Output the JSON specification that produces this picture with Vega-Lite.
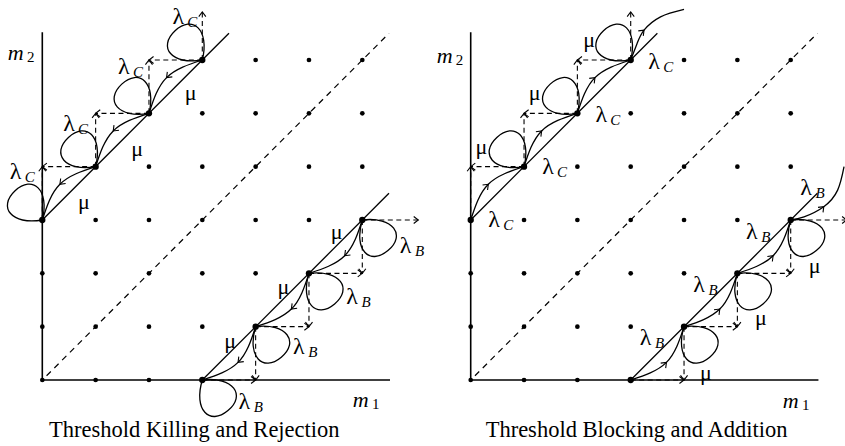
{
  "$schema": "https://vega.github.io/schema/vega-lite/v6.json",
  "padding": 0,
  "background": "white",
  "bounds": "flush",
  "data": {"values": [
    {"p":["L","R"],"k":"dot","x":0,"y":0},{"p":["L","R"],"k":"dot","x":1,"y":0},{"p":["L","R"],"k":"dot","x":2,"y":0},{"p":["L","R"],"k":"dot","x":3,"y":0},
    {"p":["L","R"],"k":"dot","x":0,"y":1},{"p":["L","R"],"k":"dot","x":1,"y":1},{"p":["L","R"],"k":"dot","x":2,"y":1},{"p":["L","R"],"k":"dot","x":3,"y":1},{"p":["L","R"],"k":"dot","x":4,"y":1},
    {"p":["L","R"],"k":"dot","x":0,"y":2},{"p":["L","R"],"k":"dot","x":1,"y":2},{"p":["L","R"],"k":"dot","x":2,"y":2},{"p":["L","R"],"k":"dot","x":3,"y":2},{"p":["L","R"],"k":"dot","x":4,"y":2},{"p":["L","R"],"k":"dot","x":5,"y":2},
    {"p":["L","R"],"k":"dot","x":0,"y":3},{"p":["L","R"],"k":"dot","x":1,"y":3},{"p":["L","R"],"k":"dot","x":2,"y":3},{"p":["L","R"],"k":"dot","x":3,"y":3},{"p":["L","R"],"k":"dot","x":4,"y":3},{"p":["L","R"],"k":"dot","x":5,"y":3},{"p":["L","R"],"k":"dot","x":6,"y":3},
    {"p":["L","R"],"k":"dot","x":1,"y":4},{"p":["L","R"],"k":"dot","x":2,"y":4},{"p":["L","R"],"k":"dot","x":3,"y":4},{"p":["L","R"],"k":"dot","x":4,"y":4},{"p":["L","R"],"k":"dot","x":5,"y":4},{"p":["L","R"],"k":"dot","x":6,"y":4},
    {"p":["L","R"],"k":"dot","x":2,"y":5},{"p":["L","R"],"k":"dot","x":3,"y":5},{"p":["L","R"],"k":"dot","x":4,"y":5},{"p":["L","R"],"k":"dot","x":5,"y":5},{"p":["L","R"],"k":"dot","x":6,"y":5},
    {"p":["L","R"],"k":"dot","x":3,"y":6},{"p":["L","R"],"k":"dot","x":4,"y":6},{"p":["L","R"],"k":"dot","x":5,"y":6},{"p":["L","R"],"k":"dot","x":6,"y":6},

    {"p":["L","R"],"k":"ax","x":0,"y":0,"x2":6.52,"y2":0},
    {"p":["L","R"],"k":"ax","x":0,"y":0,"x2":0,"y2":6.52},
    {"p":["L","R"],"k":"sol","x":0,"y":3,"x2":3.5,"y2":6.5},
    {"p":["L","R"],"k":"sol","x":3,"y":0,"x2":6.5,"y2":3.5},
    {"p":["L","R"],"k":"dsh","x":0.08,"y":0.08,"x2":6.5,"y2":6.5},

    {"p":["L","R"],"k":"da","x":1,"y":4,"x2":0,"y2":4},
    {"p":["L","R"],"k":"da","x":0,"y":3,"x2":0,"y2":4},
    {"p":["L","R"],"k":"da","x":2,"y":5,"x2":1,"y2":5},
    {"p":["L","R"],"k":"da","x":1,"y":4,"x2":1,"y2":5},
    {"p":["L","R"],"k":"da","x":3,"y":6,"x2":2,"y2":6},
    {"p":["L","R"],"k":"da","x":2,"y":5,"x2":2,"y2":6},
    {"p":["L","R"],"k":"da","x":3,"y":6,"x2":3,"y2":6.9},
    {"p":["L","R"],"k":"da","x":3,"y":0,"x2":4,"y2":0},
    {"p":["L","R"],"k":"da","x":4,"y":1,"x2":4,"y2":0},
    {"p":["L","R"],"k":"da","x":4,"y":1,"x2":5,"y2":1},
    {"p":["L","R"],"k":"da","x":5,"y":2,"x2":5,"y2":1},
    {"p":["L","R"],"k":"da","x":5,"y":2,"x2":6,"y2":2},
    {"p":["L","R"],"k":"da","x":6,"y":3,"x2":6,"y2":2},
    {"p":["L","R"],"k":"da","x":6,"y":3,"x2":7.05,"y2":3},

    {"p":["L","R"],"k":"hd","x":0,"y":4,"d":"left"},
    {"p":["L","R"],"k":"hd","x":0,"y":4,"d":"up"},
    {"p":["L","R"],"k":"hd","x":1,"y":5,"d":"left"},
    {"p":["L","R"],"k":"hd","x":1,"y":5,"d":"up"},
    {"p":["L","R"],"k":"hd","x":2,"y":6,"d":"left"},
    {"p":["L","R"],"k":"hd","x":2,"y":6,"d":"up"},
    {"p":["L","R"],"k":"hd","x":3,"y":6.9,"d":"up"},
    {"p":["L","R"],"k":"hd","x":4,"y":0,"d":"right"},
    {"p":["L","R"],"k":"hd","x":4,"y":0,"d":"down"},
    {"p":["L","R"],"k":"hd","x":5,"y":1,"d":"right"},
    {"p":["L","R"],"k":"hd","x":5,"y":1,"d":"down"},
    {"p":["L","R"],"k":"hd","x":6,"y":2,"d":"right"},
    {"p":["L","R"],"k":"hd","x":6,"y":2,"d":"down"},
    {"p":["L","R"],"k":"hd","x":7.05,"y":3,"d":"right"},
    {"p":["L"],"k":"hd","x":0.33,"y":3.67,"d":"dl"},
    {"p":["L"],"k":"hd","x":1.33,"y":4.67,"d":"dl"},
    {"p":["L"],"k":"hd","x":2.33,"y":5.67,"d":"dl"},
    {"p":["L"],"k":"hd","x":3.67,"y":0.33,"d":"dl"},
    {"p":["L"],"k":"hd","x":4.67,"y":1.33,"d":"dl"},
    {"p":["L"],"k":"hd","x":5.67,"y":2.33,"d":"dl"},
    {"p":["R"],"k":"hd","x":0.33,"y":3.67,"d":"ur"},
    {"p":["R"],"k":"hd","x":1.33,"y":4.67,"d":"ur"},
    {"p":["R"],"k":"hd","x":2.33,"y":5.67,"d":"ur"},
    {"p":["R"],"k":"hd","x":3.67,"y":0.33,"d":"ur"},
    {"p":["R"],"k":"hd","x":4.67,"y":1.33,"d":"ur"},
    {"p":["R"],"k":"hd","x":5.67,"y":2.33,"d":"ur"},
    {"p":["R"],"k":"hd","x":3.25,"y":6.56,"d":"ur"},
    {"p":["R"],"k":"hd","x":6.62,"y":3.25,"d":"ur"},

    {"p":["L","R"],"k":"arc","s":"a1","o":0,"x":1,"y":4},{"p":["L","R"],"k":"arc","s":"a1","o":1,"x":0.33,"y":3.67},{"p":["L","R"],"k":"arc","s":"a1","o":2,"x":0,"y":3},
    {"p":["L","R"],"k":"arc","s":"a2","o":0,"x":2,"y":5},{"p":["L","R"],"k":"arc","s":"a2","o":1,"x":1.33,"y":4.67},{"p":["L","R"],"k":"arc","s":"a2","o":2,"x":1,"y":4},
    {"p":["L","R"],"k":"arc","s":"a3","o":0,"x":3,"y":6},{"p":["L","R"],"k":"arc","s":"a3","o":1,"x":2.33,"y":5.67},{"p":["L","R"],"k":"arc","s":"a3","o":2,"x":2,"y":5},
    {"p":["L","R"],"k":"arc","s":"b1","o":0,"x":4,"y":1},{"p":["L","R"],"k":"arc","s":"b1","o":1,"x":3.67,"y":0.33},{"p":["L","R"],"k":"arc","s":"b1","o":2,"x":3,"y":0},
    {"p":["L","R"],"k":"arc","s":"b2","o":0,"x":5,"y":2},{"p":["L","R"],"k":"arc","s":"b2","o":1,"x":4.67,"y":1.33},{"p":["L","R"],"k":"arc","s":"b2","o":2,"x":4,"y":1},
    {"p":["L","R"],"k":"arc","s":"b3","o":0,"x":6,"y":3},{"p":["L","R"],"k":"arc","s":"b3","o":1,"x":5.67,"y":2.33},{"p":["L","R"],"k":"arc","s":"b3","o":2,"x":5,"y":2},
    {"p":["R"],"k":"arc","s":"c1","o":0,"x":3,"y":6},{"p":["R"],"k":"arc","s":"c1","o":1,"x":3.12,"y":6.31},{"p":["R"],"k":"arc","s":"c1","o":2,"x":3.25,"y":6.56},{"p":["R"],"k":"arc","s":"c1","o":3,"x":3.56,"y":6.81},{"p":["R"],"k":"arc","s":"c1","o":4,"x":4.0,"y":6.95},
    {"p":["R"],"k":"arc","s":"c2","o":0,"x":6,"y":3},{"p":["R"],"k":"arc","s":"c2","o":1,"x":6.25,"y":3.06},{"p":["R"],"k":"arc","s":"c2","o":2,"x":6.62,"y":3.25},{"p":["R"],"k":"arc","s":"c2","o":3,"x":6.88,"y":3.56},{"p":["R"],"k":"arc","s":"c2","o":4,"x":7.0,"y":4.0},

    {"p":["L"],"k":"lp","d":"ul","x":0,"y":3},
    {"p":["L","R"],"k":"lp","d":"ul","x":1,"y":4},
    {"p":["L","R"],"k":"lp","d":"ul","x":2,"y":5},
    {"p":["L","R"],"k":"lp","d":"ul","x":3,"y":6},
    {"p":["L"],"k":"lp","d":"dr","x":3,"y":0},
    {"p":["L","R"],"k":"lp","d":"dr","x":4,"y":1},
    {"p":["L","R"],"k":"lp","d":"dr","x":5,"y":2},
    {"p":["L","R"],"k":"lp","d":"dr","x":6,"y":3},

    {"p":["L"],"k":"lb","t":"λ","u":"C","x":-0.5,"y":3.9},
    {"p":["L"],"k":"lb","t":"λ","u":"C","x":0.5,"y":4.8},
    {"p":["L"],"k":"lb","t":"λ","u":"C","x":1.53,"y":5.87},
    {"p":["L"],"k":"lb","t":"λ","u":"C","x":2.55,"y":6.8},
    {"p":["L"],"k":"lb","t":"μ","x":0.78,"y":3.34},
    {"p":["L"],"k":"lb","t":"μ","x":1.78,"y":4.34},
    {"p":["L"],"k":"lb","t":"μ","x":2.78,"y":5.375},
    {"p":["L"],"k":"lb","t":"μ","x":3.52,"y":0.74},
    {"p":["L"],"k":"lb","t":"μ","x":4.52,"y":1.75},
    {"p":["L"],"k":"lb","t":"μ","x":5.52,"y":2.77},
    {"p":["L"],"k":"lb","t":"λ","u":"B","x":3.79,"y":-0.41},
    {"p":["L"],"k":"lb","t":"λ","u":"B","x":4.81,"y":0.625},
    {"p":["L"],"k":"lb","t":"λ","u":"B","x":5.81,"y":1.55},
    {"p":["L"],"k":"lb","t":"λ","u":"B","x":6.81,"y":2.52},
    {"p":["R"],"k":"lb","t":"λ","u":"C","x":0.44,"y":3.0},
    {"p":["R"],"k":"lb","t":"λ","u":"C","x":1.45,"y":4.0},
    {"p":["R"],"k":"lb","t":"λ","u":"C","x":2.45,"y":4.97},
    {"p":["R"],"k":"lb","t":"λ","u":"C","x":3.44,"y":5.97},
    {"p":["R"],"k":"lb","t":"μ","x":0.2,"y":4.375},
    {"p":["R"],"k":"lb","t":"μ","x":1.2,"y":5.375},
    {"p":["R"],"k":"lb","t":"μ","x":2.22,"y":6.375},
    {"p":["R"],"k":"lb","t":"μ","x":4.41,"y":0.14},
    {"p":["R"],"k":"lb","t":"μ","x":5.44,"y":1.16},
    {"p":["R"],"k":"lb","t":"μ","x":6.45,"y":2.14},
    {"p":["R"],"k":"lb","t":"λ","u":"B","x":3.28,"y":0.78},
    {"p":["R"],"k":"lb","t":"λ","u":"B","x":4.28,"y":1.78},
    {"p":["R"],"k":"lb","t":"λ","u":"B","x":5.27,"y":2.77},
    {"p":["R"],"k":"lb","t":"λ","u":"B","x":6.29,"y":3.6},

    {"p":["L"],"k":"ml","t":"m","u":"2","x":-0.5,"y":6.14},
    {"p":["L"],"k":"ml","t":"m","u":"1","x":5.97,"y":-0.375},
    {"p":["R"],"k":"ml","t":"m","u":"2","x":-0.49,"y":6.07},
    {"p":["R"],"k":"ml","t":"m","u":"1","x":6.0,"y":-0.39},

    {"p":["L"],"k":"ti","t":"Threshold Killing and Rejection","x":2.85,"y":-1.06},
    {"p":["R"],"k":"ti","t":"Threshold Blocking and Addition","x":3.11,"y":-1.06}
  ]},
  "transform": [{"flatten": ["p"]}],
  "facet": {"column": {"field": "p", "type": "nominal", "sort": ["L", "R"], "title": null, "header": {"labels": false, "title": null}}},
  "spacing": 10.4,
  "spec": {
    "width": 417.3,
    "height": 446,
    "encoding": {
      "x": {"field": "x", "type": "quantitative", "scale": {"domain": [-0.7932, 7.0312], "nice": false, "zero": false}, "axis": null},
      "y": {"field": "y", "type": "quantitative", "scale": {"domain": [-1.2375, 7.125], "nice": false, "zero": false}, "axis": null}
    },
    "layer": [
      {"transform": [{"filter": "datum.k == 'ax'"}], "mark": {"type": "rule", "color": "black", "strokeWidth": 1.6}, "encoding": {"x2": {"field": "x2"}, "y2": {"field": "y2"}}},
      {"transform": [{"filter": "datum.k == 'sol'"}], "mark": {"type": "rule", "color": "black", "strokeWidth": 1.3}, "encoding": {"x2": {"field": "x2"}, "y2": {"field": "y2"}}},
      {"transform": [{"filter": "datum.k == 'dsh'"}], "mark": {"type": "rule", "color": "black", "strokeWidth": 1.2, "strokeDash": [6, 5]}, "encoding": {"x2": {"field": "x2"}, "y2": {"field": "y2"}}},
      {"transform": [{"filter": "datum.k == 'da'"}], "mark": {"type": "rule", "color": "black", "strokeWidth": 1.1, "strokeDash": [5, 3.5]}, "encoding": {"x2": {"field": "x2"}, "y2": {"field": "y2"}}},
      {"transform": [{"filter": "datum.k == 'arc'"}], "mark": {"type": "line", "color": "black", "strokeWidth": 1.3, "interpolate": "natural"}, "encoding": {"order": {"field": "o", "type": "quantitative"}, "detail": {"field": "s", "type": "nominal"}}},
      {"transform": [{"filter": "datum.k == 'lp' && datum.d == 'ul'"}], "mark": {"type": "point", "shape": "M0,0C-2.3,-1.5,-2.1,-3.5,0,-3.5C2.1,-3.5,2.3,-1.5,0,0", "filled": false, "stroke": "black", "strokeWidth": 1.3, "opacity": 1, "size": 520, "angle": 317}},
      {"transform": [{"filter": "datum.k == 'lp' && datum.d == 'dr'"}], "mark": {"type": "point", "shape": "M0,0C-2.3,-1.5,-2.1,-3.5,0,-3.5C2.1,-3.5,2.3,-1.5,0,0", "filled": false, "stroke": "black", "strokeWidth": 1.3, "opacity": 1, "size": 520, "angle": 140}},
      {"transform": [{"filter": "datum.k == 'dot'"}], "mark": {"type": "point", "filled": true, "color": "black", "opacity": 1, "size": 22}},
      {"transform": [{"filter": "datum.k == 'dot' && abs(datum.x - datum.y) == 3"}], "mark": {"type": "point", "filled": true, "color": "black", "opacity": 1, "size": 40}},
      {"transform": [{"filter": "datum.k == 'hd'"}], "mark": {"type": "point", "filled": false, "stroke": "black", "strokeWidth": 1.1, "opacity": 1, "size": 50},
       "encoding": {"shape": {"field": "d", "type": "nominal", "legend": null, "scale": {"domain": ["up", "down", "left", "right", "ur", "dl"], "range": ["M-1,1.3L0,0L1,1.3", "M-1,-1.3L0,0L1,-1.3", "M1.3,-1L0,0L1.3,1", "M-1.3,-1L0,0L-1.3,1", "M-1.626,0.212L0,0L-0.212,1.626", "M1.626,-0.212L0,0L0.212,-1.626"]}}}},
      {"transform": [{"filter": "datum.k == 'lb' && datum.t == 'μ'"}], "mark": {"type": "text", "font": "Liberation Serif", "fontSize": 22, "color": "black", "align": "center", "baseline": "middle"}, "encoding": {"text": {"field": "t"}}},
      {"transform": [{"filter": "datum.k == 'lb' && datum.t == 'λ'"}], "mark": {"type": "text", "font": "Liberation Serif", "fontSize": 24, "color": "black", "align": "center", "baseline": "middle"}, "encoding": {"text": {"field": "t"}}},
      {"transform": [{"filter": "datum.k == 'lb' && datum.u"}], "mark": {"type": "text", "font": "Liberation Serif", "fontSize": 15, "fontStyle": "italic", "color": "black", "align": "center", "baseline": "middle", "dx": 14, "dy": 5}, "encoding": {"text": {"field": "u"}}},
      {"transform": [{"filter": "datum.k == 'ml'"}], "mark": {"type": "text", "font": "Liberation Serif", "fontSize": 22, "fontStyle": "italic", "color": "black", "align": "center", "baseline": "middle"}, "encoding": {"text": {"field": "t"}}},
      {"transform": [{"filter": "datum.k == 'ml'"}], "mark": {"type": "text", "font": "Liberation Serif", "fontSize": 15, "color": "black", "align": "center", "baseline": "middle", "dx": 15, "dy": 4}, "encoding": {"text": {"field": "u"}}},
      {"transform": [{"filter": "datum.k == 'ti'"}], "mark": {"type": "text", "font": "Liberation Serif", "fontSize": 22.5, "color": "black", "align": "center", "baseline": "alphabetic"}, "encoding": {"text": {"field": "t"}}}
    ]
  },
  "config": {"view": {"stroke": null}}
}
